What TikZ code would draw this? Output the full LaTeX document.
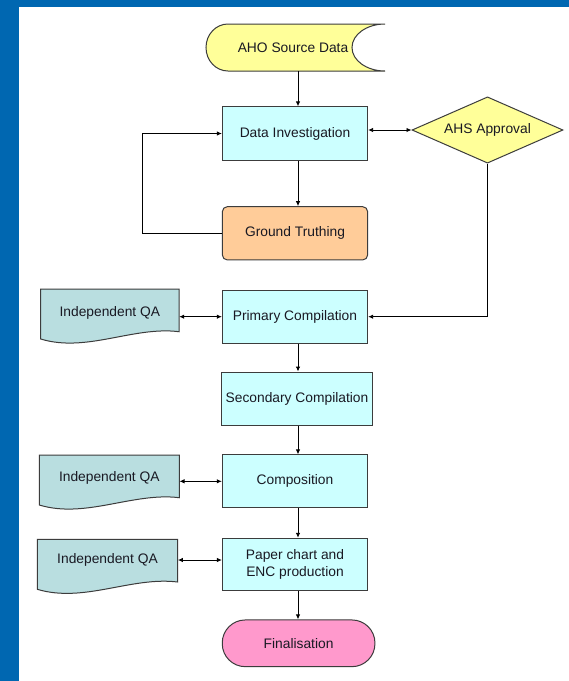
\documentclass[tikz,border=0pt]{standalone}
\usepackage{fontspec}
\setmainfont{Liberation Sans}
\usetikzlibrary{shapes.geometric,arrows.meta}
\definecolor{bgblue}{RGB}{0,103,177}
\definecolor{edge}{RGB}{60,60,60}
\definecolor{yel}{RGB}{255,255,153}
\definecolor{cyanfill}{RGB}{204,255,255}
\definecolor{peach}{RGB}{255,204,153}
\definecolor{qafill}{RGB}{185,222,224}
\definecolor{pinkfill}{RGB}{255,153,204}
\definecolor{txt}{RGB}{25,25,35}
\newcommand\qashape[3]{%
  \filldraw[qadoc] (#1,#3) -- (#2,#3) -- (#2,{#3+42.7})
    .. controls ({#1+0.67*(#2-#1)},{#3+37}) and ({#1+0.33*(#2-#1)},{#3+64}) .. (#1,{#3+50}) -- cycle;}
\begin{document}
\begin{tikzpicture}[x=1pt,y=-1pt,
  lbl/.style={font=\fontsize{13.8}{16.7}\selectfont, text=txt, align=center, inner sep=0pt},
  box/.style={lbl, draw=edge, line width=1pt, fill=cyanfill, minimum width=145.3pt, minimum height=53.3pt},
  qadoc/.style={draw=edge, line width=1pt, fill=qafill},
  arr/.style={-{Latex[length=5pt,width=4.5pt]}, line width=0.9pt, draw=black},
  dbl/.style={{Latex[length=5pt,width=4.5pt]}-{Latex[length=5pt,width=4.5pt]}, line width=0.9pt, draw=black}]
\useasboundingbox (0,0) rectangle (569,681);
\fill[bgblue] (0,0) rectangle (569,681);
\fill[white] (18.7,6.7) rectangle (569,681);
% AHO Source Data (stored data shape)
\filldraw[draw=edge, line width=1pt, fill=yel]
  (228,24) -- (385,24)
  .. controls (366.8,24) and (352,34.5) .. (352,47.5)
  .. controls (352,60.5) and (366.8,71) .. (385,71)
  -- (228,71)
  .. controls (215.8,71) and (206,60.5) .. (206,47.5)
  .. controls (206,34.5) and (215.8,24) .. (228,24) -- cycle;
% Independent QA documents
\qashape{40.7}{179}{289}
\qashape{39.3}{179.3}{455}
\qashape{37.3}{177.7}{539.3}
\coordinate (col) at (298,0);
\node[lbl, minimum width=179pt, minimum height=47pt] (aho) at (293,47.5) {AHO Source Data};
\node[box] (di) at (295,133.5) {Data Investigation};
\node[box, fill=peach, rounded corners=5pt] (gt) at (295,233.3) {Ground Truthing};
\node[lbl, shape=diamond, aspect=2.3, draw=edge, line width=1pt, fill=yel, minimum width=151pt, minimum height=66.3pt] (ahs) at (487.5,130) {AHS Approval};
\node[box] (pc) at (295,316.7) {Primary Compilation};
\node[box, minimum width=150.6pt] (sc) at (297,398.7) {Secondary Compilation};
\node[box, minimum height=52.7pt] (comp) at (295,481.3) {Composition};
\node[box, minimum height=52.4pt] (paper) at (295,564.5) {Paper chart and\\ENC production};
\node[box, fill=pinkfill, rounded corners=23pt, minimum width=152.7pt, minimum height=46.7pt] (fin) at (298.6,643.3) {Finalisation};
\node[lbl, minimum width=138.3pt] (qa1) at (109.85,312.7) {Independent QA};
\node[lbl, minimum width=140pt] (qa2) at (109.3,478.3) {Independent QA};
\node[lbl, minimum width=140.4pt] (qa3) at (107.5,560) {Independent QA};
% connectors
\draw[arr] (aho.south -| col) -- (di.north -| col);
\draw[arr] (di.south -| col) -- (gt.north -| col);
\draw[arr] (gt.west) -- ++(-79,0) |- (di.west);
\draw[dbl] (di.east |- ahs.west) -- (ahs.west);
\draw[arr] (ahs.south) |- (pc.east);
\draw[arr] (pc.south -| col) -- (sc.north -| col);
\draw[arr] (sc.south -| col) -- (comp.north -| col);
\draw[arr] (comp.south -| col) -- (paper.north -| col);
\draw[arr] (paper.south -| col) -- (fin.north -| col);
\draw[dbl] (qa1.east |- pc.west) -- (pc.west);
\draw[dbl] (qa2.east |- comp.west) -- (comp.west);
\draw[dbl] (qa3.east) -- (qa3.east -| paper.west);
\end{tikzpicture}
\end{document}
